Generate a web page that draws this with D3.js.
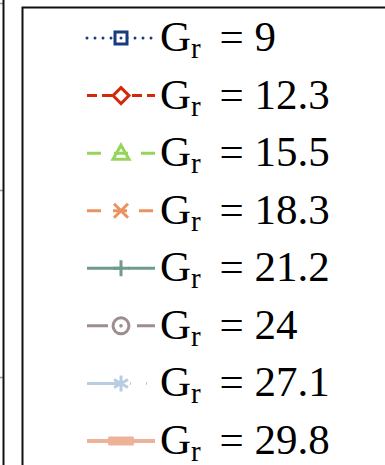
<!DOCTYPE html>
<html>
<head>
<meta charset="utf-8">
<script src="https://cdn.jsdelivr.net/npm/d3@7"></script>
<style>
  html, body { margin: 0; padding: 0; background: #fff; overflow: hidden; }
</style>
</head>
<body>
<div class="canvas"></div>
<script>
// legend entries
const grValues = ['9', '12.3', '15.5', '18.3', '21.2', '24', '27.1', '29.8'];
const colors = ['#173b7d', '#d3290b', '#94d55a', '#ec925f', '#6f9b8c', '#9d8d8e', '#b8cde1', '#eeb299'];
const markers = ['square', 'diamond', 'triangle', 'x', 'plus', 'circle', 'star', 'bar'];
const dashes = ['0,8', '10,5', '14,13', '14,12', '36,5', '21,29', '31,12,1,15,1,20', null];
// only the tick marks of the left axis are in view, labels are outside the crop
const axisTicks = [0, 1, 2];

const width = 385, height = 465;

const svg = d3.select('.canvas')
	.append('svg')
	.attr('width', width)
	.attr('height', height);

// left axis of the plot behind the legend
const yAxisScale = d3.scaleLinear()
	.domain([0, 2])
	.range([377, 3]);

const yAxisGroup = svg.append('g')
	.attr('transform', 'translate(3.5,0)')
	.call(d3.axisLeft(yAxisScale).tickValues(axisTicks).tickSize(4).tickFormat(''));
yAxisGroup.select('.domain').remove();
yAxisGroup.selectAll('.tick line').attr('stroke', '#999').attr('stroke-width', 1.5);
svg.append('line')
	.attr('x1', 3.5).attr('x2', 3.5)
	.attr('y1', 0).attr('y2', height)
	.attr('stroke', '#111').attr('stroke-width', 2);

// legend box
svg.append('rect')
	.attr('x', 22.5)
	.attr('y', 7.5)
	.attr('width', 400)
	.attr('height', 500)
	.attr('fill', '#fff')
	.attr('stroke', '#111')
	.attr('stroke-width', 2);

const y = d3.scalePoint()
	.domain(grValues)
	.range([38, 441]);

const lineX0 = 87, lineX1 = 155, markX = 121;

const rows = svg.selectAll('g.row')
	.data(grValues)
	.enter()
	.append('g')
	.attr('class', 'row')
	.attr('transform', d => `translate(0,${y(d)})`);

rows.append('line')
	.attr('x1', lineX0)
	.attr('x2', lineX1)
	.attr('y1', 0)
	.attr('y2', 0)
	.attr('stroke', (d, i) => colors[i])
	.attr('stroke-width', (d, i) => i == 7 ? 4 : 3)
	.attr('stroke-linecap', (d, i) => i == 0 ? 'round' : 'butt')
	.attr('stroke-dasharray', (d, i) => dashes[i]);

// markers
rows.each(function (d, i) {
	const g = d3.select(this).append('g')
		.attr('transform', `translate(${markX},0)`)
		.attr('stroke', colors[i])
		.attr('fill', 'none')
		.attr('stroke-width', 3);
	switch (markers[i]) {
		case 'square':
			g.append('rect').attr('x', -6).attr('y', -6).attr('width', 12).attr('height', 12).attr('fill', '#fff');
			g.append('circle').attr('r', 1.5).attr('fill', colors[i]).attr('stroke', 'none');
			break;
		case 'diamond':
			g.append('path').attr('d', 'M0,-8L8,0L0,8L-8,0Z').attr('fill', '#fff');
			break;
		case 'triangle':
			g.append('path').attr('d', 'M0,-8L8,6L-8,6Z');
			break;
		case 'x':
			g.append('path').attr('d', 'M-7,-7L7,7M-7,7L7,-7');
			break;
		case 'plus':
			g.append('path').attr('d', 'M0,-8L0,8M-8,0L8,0');
			break;
		case 'circle':
			g.append('circle').attr('r', 8).attr('fill', '#fff');
			g.append('circle').attr('r', 1.8).attr('fill', colors[i]).attr('stroke', 'none');
			break;
		case 'star':
			g.append('path').attr('d', 'M0,-8L0,8M-7,-4L7,4M-7,4L7,-4');
			break;
		case 'bar':
			g.append('rect').attr('x', -13).attr('y', -4.5).attr('width', 26).attr('height', 9)
				.attr('fill', colors[i]).attr('stroke', 'none').attr('rx', 1.5);
			break;
	}
});

// labels
const label = rows.append('text')
	.attr('x', 160)
	.attr('y', 13)
	.attr('font-family', '"Liberation Serif", "Times New Roman", serif')
	.attr('font-size', 43)
	.attr('fill', '#000');
label.append('tspan').text('G');
label.append('tspan').attr('font-size', 29).attr('dy', 7).text('r');
label.append('tspan').attr('dy', -7).attr('dx', 8).text(d => '\u00a0=\u00a0' + d);
</script>
</body>
</html>
